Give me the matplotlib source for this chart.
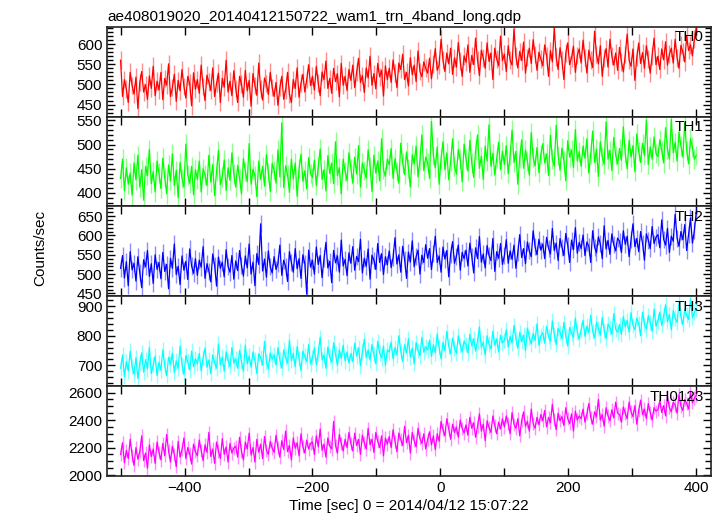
import numpy as np
import matplotlib
matplotlib.use("Agg")
import matplotlib.pyplot as plt
from matplotlib.ticker import MultipleLocator

plt.rcParams['font.family'] = ['Liberation Sans', 'DejaVu Sans']

title = "ae408019020_20140412150722_wam1_trn_4band_long.qdp"
t_start = -500   # sec
t_bin = 3        # sec per point

# count rates, one row = 60 s
th0 = [560, 470, 512, 488, 455, 530, 497, 476, 518, 440, 505, 532, 481, 499, 463, 521, 490, 545, 472, 508,
       486, 530, 462, 515, 498, 551, 470, 492, 525, 458, 510, 484, 537, 495, 466, 520, 503, 447, 529, 488,
       512, 478, 548, 495, 460, 523, 506, 485, 541, 470, 502, 528, 455, 515, 493, 560, 481, 508, 472, 534,
       490, 455, 520, 501, 468, 535, 484, 510, 446, 527, 497, 473, 553, 488, 461, 516, 502, 475, 530, 492,
       470, 505, 448, 492, 520, 463, 486, 530, 475, 455, 512, 490, 541, 468, 503, 525, 481, 512, 549, 497,
       520, 486, 545, 503, 472, 531, 512, 558, 490, 515, 478, 540, 507, 526, 469, 552, 498, 520, 485, 537,
       510, 548, 492, 530, 565, 505, 522, 480, 541, 516, 570, 498, 527, 489, 552, 519, 535, 471, 546, 512,
       540, 505, 561, 528, 492, 553, 537, 575, 512, 530, 496, 566, 524, 548, 507, 583, 532, 519, 556, 540,
       528, 565, 514, 550, 589, 535, 548, 612, 560, 532, 578, 551, 590, 525, 566, 543, 604, 558, 520, 571,
       555, 598, 530, 572, 549, 615, 561, 522, 585, 566, 540, 603, 557, 578, 512, 590, 563, 546, 620, 559,
       575, 532, 596, 560, 548, 638, 570, 541, 582, 559, 605, 528, 567, 590, 552, 611, 574, 535, 580, 563,
       546, 598, 571, 520, 584, 556, 640, 568, 537, 591, 560, 512, 578, 603, 549, 566, 595, 530, 572, 588,
       553, 610, 567, 528, 585, 560, 542, 632, 574, 551, 596, 520, 565, 589, 543, 612, 570, 548, 578, 535,
       592, 556, 531, 574, 625, 560, 545, 588, 510, 567, 603, 552, 579, 540, 596, 563, 528, 571, 615, 549,
       570, 537, 588, 561, 606, 548, 575, 590, 553, 612, 566, 540, 597, 580, 556, 620, 584, 598, 571, 612,
       640]

th1 = [430, 470, 405, 452, 418, 441, 395, 462, 427, 478, 412, 448, 385, 455, 436, 490, 419, 444, 402, 466,
       441, 409, 472, 432, 398, 458, 425, 481, 415, 447, 390, 463, 430, 412, 501, 437, 420, 455, 396, 448,
       428, 466, 402, 450, 437, 415, 478, 422, 459, 394, 445, 488, 417, 433, 468, 405, 452, 426, 483, 439,
       412, 457, 430, 398, 471, 445, 423, 502, 418, 449, 436, 392, 466, 428, 455, 414, 479, 442, 403, 461,
       447, 420, 489, 433, 545, 411, 456, 438, 401, 470, 429, 462, 393, 451, 480, 424, 446, 408, 473, 440,
       432, 468, 415, 455, 491, 428, 448, 404, 477, 440, 462, 419, 506, 436, 452, 398, 470, 445, 425, 483,
       451, 420, 474, 439, 498, 412, 462, 447, 430, 489, 455, 403, 478, 441, 466, 425, 512, 448, 434, 470,
       458, 492, 430, 471, 445, 420, 503, 462, 438, 485, 451, 412, 479, 460, 497, 433, 468, 520, 446, 474,
       463, 430, 548, 478, 452, 495, 418, 470, 506, 448, 483, 427, 465, 512, 455, 439, 490, 470, 423, 501,
       470, 445, 509, 462, 432, 488, 520, 451, 476, 428, 497, 466, 541, 455, 482, 437, 472, 505, 448, 486,
       459, 498, 440, 477, 530, 463, 486, 418, 472, 510, 451, 489, 466, 437, 525, 474, 456, 494, 442, 480,
       502, 462, 481, 436, 519, 470, 455, 540, 478, 447, 493, 467, 425, 508, 474, 489, 452, 531, 466, 485,
       455, 497, 472, 512, 441, 480, 528, 463, 491, 434, 506, 475, 459, 547, 470, 488, 446, 515, 478, 460,
       492, 468, 537, 481, 450, 509, 474, 498, 444, 522, 486, 463, 503, 477, 551, 459, 495, 470, 516, 482,
       475, 510, 488, 462, 535, 491, 470, 552, 483, 505, 466, 526, 497, 474, 545, 488, 460, 512, 495, 470,
       478]

th2 = [515, 548, 490, 532, 470, 558, 511, 528, 482, 545, 503, 465, 537, 519, 561, 494, 527, 476, 550, 512,
       530, 488, 556, 507, 525, 462, 541, 515, 578, 499, 520, 473, 547, 510, 533, 486, 565, 521, 502, 540,
       497, 536, 518, 571, 489, 527, 508, 480, 552, 523, 469, 544, 515, 531, 493, 563, 520, 505, 548, 487,
       534, 509, 561, 522, 495, 547, 516, 578, 500, 531, 470, 553, 525, 630, 508, 539, 492, 560, 519, 503,
       545, 512, 528, 575, 497, 536, 520, 481, 558, 530, 505, 566, 514, 540, 489, 550, 527, 448, 562, 518,
       536, 500, 570, 525, 548, 491, 540, 582, 516, 533, 478, 561, 529, 547, 505, 588, 521, 538, 496, 555,
       528, 571, 510, 546, 532, 590, 503, 541, 520, 565, 487, 549, 536, 512, 579, 530, 553, 499, 545, 524,
       560, 517, 543, 594, 526, 550, 505, 572, 538, 489, 557, 531, 586, 519, 545, 562, 500, 549, 530, 576,
       541, 566, 512, 553, 598, 530, 547, 505, 570, 539, 561, 493, 552, 584, 528, 546, 575, 510, 556, 540,
       562, 521, 580, 546, 503, 568, 540, 597, 531, 552, 516, 574, 548, 535, 592, 507, 558, 541, 579, 525,
       547, 589, 528, 560, 538, 575, 515, 556, 602, 543, 566, 527, 583, 560, 545, 612, 571, 550, 590, 562,
       578, 540, 595, 567, 552, 618, 561, 580, 535, 592, 570, 548, 605, 575, 530, 588, 563, 620, 554, 582,
       566, 601, 548, 583, 572, 530, 612, 570, 555, 596, 578, 540, 625, 565, 587, 551, 604, 576, 560, 593,
       585, 556, 612, 577, 598, 545, 589, 630, 571, 592, 558, 610, 580, 536, 604, 588, 566, 623, 579, 595,
       602, 568, 640, 590, 575, 618, 556, 598, 585, 655, 593, 572, 610, 589, 628, 561, 603, 645, 580, 612,
       660]

th3 = [690, 735, 662, 712, 681, 748, 695, 670, 726, 655, 708, 742, 677, 719, 688, 760, 672, 702, 731, 665,
       710, 683, 752, 698, 665, 727, 704, 741, 676, 715, 690, 765, 701, 668, 733, 712, 684, 748, 695, 722,
       705, 740, 681, 726, 758, 693, 718, 672, 735, 710, 690, 772, 702, 728, 680, 745, 716, 695, 760, 707,
       722, 690, 751, 713, 680, 768, 705, 731, 694, 745, 718, 672, 739, 726, 700, 781, 712, 688, 742, 720,
       735, 701, 760, 718, 690, 752, 728, 707, 785, 716, 740, 695, 763, 724, 682, 748, 731, 712, 770, 704,
       726, 758, 702, 741, 795, 718, 735, 690, 762, 729, 710, 776, 738, 700, 752, 724, 768, 715, 745, 708,
       740, 712, 775, 731, 760, 698, 745, 788, 726, 752, 718, 770, 736, 705, 781, 742, 725, 765, 700, 752,
       745, 778, 722, 760, 735, 800, 748, 712, 770, 741, 790, 728, 758, 705, 777, 750, 732, 795, 744, 763,
       752, 785, 730, 770, 742, 806, 760, 722, 778, 750, 815, 765, 738, 792, 758, 740, 800, 768, 745, 782,
       770, 742, 805, 765, 790, 748, 782, 830, 760, 778, 735, 800, 772, 755, 815, 768, 790, 745, 802, 776,
       785, 820, 762, 798, 775, 835, 790, 758, 812, 780, 802, 750, 826, 795, 772, 808, 785, 840, 768, 800,
       810, 775, 832, 798, 782, 850, 805, 770, 825, 812, 790, 845, 800, 765, 828, 808, 795, 860, 812, 788,
       820, 852, 798, 833, 810, 870, 815, 792, 845, 825, 802, 862, 818, 790, 840, 828, 805, 875, 822, 812,
       838, 805, 865, 830, 852, 812, 878, 835, 820, 860, 842, 800, 880, 838, 822, 868, 845, 815, 890, 832,
       850, 880, 835, 868, 905, 848, 872, 820, 885, 860, 845, 912, 865, 838, 890, 870, 855, 925, 862, 880,
       888]

th0123 = [2150, 2235, 2090, 2180, 2120, 2260, 2145, 2070, 2200, 2115, 2170, 2285, 2105, 2160, 2050, 2220, 2135, 2190, 2085, 2240,
          2165, 2110, 2230, 2140, 2295, 2175, 2095, 2210, 2150, 2060, 2245, 2130, 2185, 2270, 2120, 2200, 2155, 2080, 2225, 2170,
          2140, 2255, 2180, 2105, 2220, 2165, 2310, 2135, 2190, 2085, 2240, 2175, 2120, 2265, 2150, 2205, 2095, 2230, 2160, 2195,
          2210, 2130, 2275, 2175, 2110, 2240, 2190, 2305, 2145, 2200, 2095, 2260, 2165, 2225, 2120, 2280, 2180, 2150, 2245, 2195,
          2165, 2290, 2200, 2130, 2250, 2185, 2320, 2170, 2215, 2110, 2270, 2195, 2235, 2140, 2300, 2205, 2160, 2255, 2190, 2230,
          2240, 2150, 2285, 2205, 2335, 2180, 2225, 2130, 2270, 2210, 2190, 2390, 2215, 2160, 2295, 2230, 2175, 2260, 2200, 2310,
          2230, 2175, 2305, 2215, 2260, 2150, 2290, 2235, 2190, 2340, 2220, 2260, 2165, 2310, 2245, 2200, 2285, 2140, 2270, 2225,
          2280, 2200, 2330, 2245, 2170, 2305, 2260, 2215, 2355, 2235, 2290, 2160, 2310, 2250, 2205, 2340, 2265, 2230, 2300, 2190,
          2260, 2315, 2220, 2285, 2185, 2300, 2245, 2390, 2330, 2285, 2410, 2335, 2260, 2370, 2310, 2350, 2275, 2400, 2340, 2305,
          2365, 2290, 2420, 2340, 2380, 2275, 2355, 2445, 2320, 2370, 2250, 2395, 2345, 2310, 2430, 2360, 2300, 2385, 2335, 2410,
          2350, 2430, 2375, 2300, 2455, 2370, 2340, 2410, 2285, 2395, 2460, 2355, 2390, 2320, 2480, 2375, 2340, 2420, 2365, 2440,
          2395, 2470, 2350, 2420, 2380, 2515, 2405, 2330, 2450, 2395, 2425, 2360, 2490, 2410, 2375, 2445, 2320, 2465, 2400, 2430,
          2410, 2480, 2385, 2445, 2520, 2420, 2370, 2460, 2425, 2550, 2400, 2440, 2355, 2490, 2430, 2395, 2475, 2415, 2530, 2450,
          2440, 2385, 2495, 2450, 2410, 2530, 2460, 2425, 2505, 2370, 2470, 2545, 2440, 2480, 2410, 2520, 2455, 2400, 2490, 2465,
          2475, 2540, 2455, 2505, 2430, 2570, 2490, 2460, 2530, 2510, 2450, 2585, 2500, 2470, 2550, 2520, 2480, 2600, 2525, 2560,
          2580]

names = ["TH0", "TH1", "TH2", "TH3", "TH0123"]
series = [th0, th1, th2, th3, th0123]
errors = [22, 20, 22, 26, 48]   # typical 1-sigma error per bin
colors = ["#ff0000", "#00ff00", "#0000ff", "#00ffff", "#ff00ff"]
ylims = [(420, 643), (372, 558), (443, 675), (630, 934), (1995, 2648)]
ymajor = [50, 50, 50, 100, 200]
yminor = [10, 10, 10, 20, 50]

fig, axes = plt.subplots(5, 1, sharex=True, figsize=(7.24, 5.16), dpi=100)
fig.subplots_adjust(left=0.148, right=0.982, top=0.948, bottom=0.078, hspace=0)

for i, ax in enumerate(axes):
    y = np.array(series[i])
    t = t_start + t_bin * np.arange(len(y))
    ax.errorbar(t, y, yerr=errors[i], fmt='none', ecolor=colors[i], elinewidth=1.0, alpha=0.45)
    ax.plot(t, y, color=colors[i], lw=0.9)
    ax.set_ylim(ylims[i])
    ax.set_xlim(-521, 423)
    ax.yaxis.set_major_locator(MultipleLocator(ymajor[i]))
    ax.yaxis.set_minor_locator(MultipleLocator(yminor[i]))
    ax.xaxis.set_major_locator(MultipleLocator(200))
    ax.xaxis.set_minor_locator(MultipleLocator(100))
    ax.tick_params(which='both', direction='in', top=True, right=True, labelsize=11)
    ax.tick_params(which='major', length=6, width=1)
    ax.tick_params(which='minor', length=4, width=1)
    ax.tick_params(axis='x', which='minor', length=6)
    for s in ax.spines.values():
        s.set_linewidth(1.2)
        s.set_color('#222222')
    ax.text(0.988, 0.96, names[i], transform=ax.transAxes, ha='right', va='top', fontsize=11)

axes[0].set_title(title, loc='left', fontsize=11, pad=4)
axes[-1].set_xlabel("Time [sec] 0 = 2014/04/12 15:07:22", fontsize=11, labelpad=3)
fig.text(0.055, 0.52, "Counts/sec", rotation=90, ha='center', va='center', fontsize=11)

fig.savefig("out.png", dpi=100)
